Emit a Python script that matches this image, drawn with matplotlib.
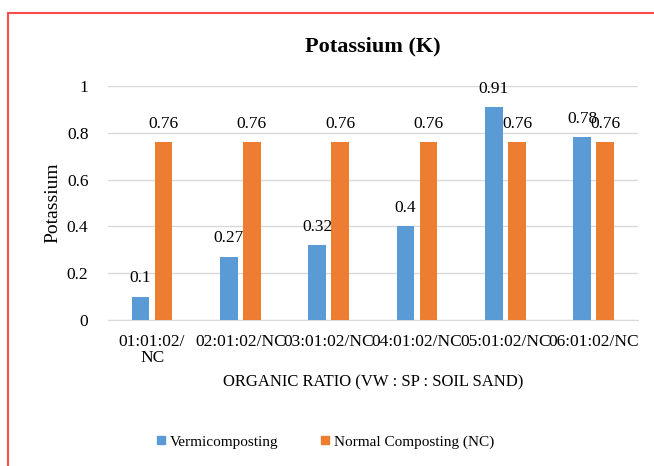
import matplotlib.pyplot as plt
import matplotlib.patches as mpatches
import numpy as np

categories = ["01:01:02/\nNC", "02:01:02/NC", "03:01:02/NC", "04:01:02/NC", "05:01:02/NC", "06:01:02/NC"]
vermi = [0.1, 0.27, 0.32, 0.4, 0.91, 0.78]
normal = [0.76, 0.76, 0.76, 0.76, 0.76, 0.76]

blue = "#5B9BD5"
orange = "#ED7D31"

plt.rcParams['font.family'] = ['Liberation Serif', 'DejaVu Serif']

fig = plt.figure(figsize=(6.54, 4.66), dpi=100)
ax = fig.add_axes([0.165, 0.3133, 0.8105, 0.5022])

x = np.arange(len(categories))
w = 0.2
off = 0.13
b1 = ax.bar(x - off, vermi, w, color=blue, label="Vermicomposting", zorder=3)
b2 = ax.bar(x + off, normal, w, color=orange, label="Normal Composting (NC)", zorder=3)

# value labels above each bar
for rects, vals in ((b1, vermi), (b2, normal)):
    for r, v in zip(rects, vals):
        ax.text(r.get_x() + r.get_width() / 2, v + 0.045, str(v), ha='center', va='bottom', fontsize=12.5)

ax.set_xlim(-0.5, len(categories) - 0.5)
ax.set_ylim(0, 1)
ax.set_yticks([0, 0.2, 0.4, 0.6, 0.8, 1])
ax.set_yticklabels(["0", "0.2", "0.4", "0.6", "0.8", "1"])
ax.yaxis.grid(True, color="#D9D9D9", lw=1, zorder=0)
ax.set_xticks(x)
ax.set_xticklabels(categories, fontsize=12.5, linespacing=1.0)
ax.tick_params(axis='y', length=0, labelsize=12.5, pad=14)
ax.tick_params(axis='x', length=0, pad=10)
for s in ['top', 'right', 'left']:
    ax.spines[s].set_visible(False)
ax.spines['bottom'].set_color("#D9D9D9")
ax.set_ylabel("Potassium", fontsize=14, labelpad=4)
ax.set_xlabel("ORGANIC RATIO (VW : SP : SOIL SAND)", fontsize=12, labelpad=6)
ax.set_title("Potassium (K)", fontsize=16, fontweight='bold', pad=25)

h1 = plt.Line2D([], [], marker='s', ls='', color=blue, markersize=6)
h2 = plt.Line2D([], [], marker='s', ls='', color=orange, markersize=6)
fig.legend([h1, h2], ["Vermicomposting", "Normal Composting (NC)"], loc='center',
           bbox_to_anchor=(0.495, 0.052), ncol=2, frameon=False, fontsize=11,
           handletextpad=0.1, columnspacing=2.5, handlelength=1.0)

# red frame, cut off at right and bottom like the reference
fig.patches.append(mpatches.Rectangle((8 / 654, -0.1), 1.2, 1 - 13 / 466 + 0.1,
                                      transform=fig.transFigure, fill=False,
                                      edgecolor="#FF4B4B", lw=1.5))

fig.savefig("out.png", dpi=100)
